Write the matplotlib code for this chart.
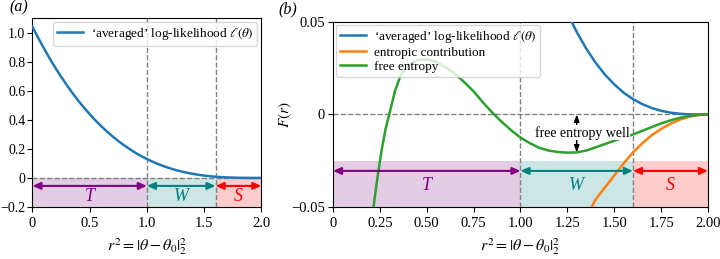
import matplotlib
matplotlib.use("Agg")
import matplotlib.pyplot as plt

plt.rcParams['font.family'] = ['Liberation Serif', 'DejaVu Serif']
plt.rcParams['mathtext.fontset'] = 'stix'
plt.rcParams['font.size'] = 10.5
plt.rcParams['ytick.major.pad'] = 2.5

# data
r2_ll = [0.00, 0.05, 0.10, 0.15, 0.20, 0.25, 0.30, 0.35, 0.40, 0.45,
         0.50, 0.55, 0.60, 0.65, 0.70, 0.75, 0.80, 0.85, 0.90, 0.95,
         1.00, 1.05, 1.10, 1.15, 1.20, 1.25, 1.30, 1.35, 1.40, 1.45,
         1.50, 1.55, 1.60, 1.65, 1.70, 1.75, 1.80, 1.85, 1.90, 1.95, 2.00]
loglik = [1.040, 0.964, 0.892, 0.823, 0.758, 0.697, 0.639, 0.584, 0.532, 0.484,
          0.439, 0.396, 0.357, 0.320, 0.286, 0.254, 0.225, 0.198, 0.173, 0.1505,
          0.130, 0.1115, 0.0948, 0.0798, 0.0666, 0.0548, 0.0446, 0.0357, 0.0281, 0.0216,
          0.0163, 0.0118, 0.0083, 0.0056, 0.0035, 0.0020, 0.0010, 0.0004, 0.0001, 0.0000, 0.0]

r2_ent = [1.37, 1.40, 1.45, 1.50, 1.55, 1.60, 1.65, 1.70, 1.75, 1.80, 1.85, 1.90, 1.95, 2.00]
entropic = [-0.052, -0.046, -0.0395, -0.033, -0.0265, -0.0205, -0.0155, -0.0112,
            -0.0078, -0.005, -0.0028, -0.0012, -0.0003, 0.0]

r2_free = [0.212, 0.22, 0.24, 0.26, 0.28, 0.30, 0.33, 0.36, 0.40, 0.45,
           0.50, 0.55, 0.60, 0.65, 0.70, 0.75, 0.80, 0.85, 0.90, 0.95,
           1.00, 1.05, 1.10, 1.15, 1.20, 1.25, 1.30, 1.35, 1.40, 1.45,
           1.50, 1.55, 1.60, 1.65, 1.70, 1.75, 1.80, 1.85, 1.90, 1.95, 2.00]
free_entropy = [-0.054, -0.047, -0.032, -0.019, -0.008, 0.000, 0.0125, 0.021, 0.0265, 0.0295,
                0.0298, 0.0285, 0.0255, 0.022, 0.0175, 0.0125, 0.0065, 0.001, -0.004, -0.0085,
                -0.0125, -0.0155, -0.018, -0.0195, -0.0203, -0.0206, -0.0205, -0.0195, -0.0178, -0.016,
                -0.0142, -0.0125, -0.0108, -0.0088, -0.0068, -0.0048, -0.0032, -0.0018, -0.0008, -0.0002, 0.0]

# free entropy well, marked at its bottom
well_x = 1.3
well_depth = -0.0205

bounds = [0.0, 1.0, 1.6, 2.0]
region_names = ['T', 'W', 'S']
region_colors = ['purple', 'teal', 'red']

xlabel = r'$r^2 = |\theta - \theta_0|_2^2$'
ll_label = r"‘averaged’ log-likelihood $\ell(\theta)$"
arrow_style = '<|-|>,head_length=0.45,head_width=0.2'


def draw_regions(ax, band_bottom, band_top, arrow_y, text_y):
    for i in range(3):
        ax.fill_between([bounds[i], bounds[i + 1]], band_bottom, band_top,
                        color=region_colors[i], alpha=0.2, lw=0, zorder=0)
        ax.annotate('', xy=(bounds[i + 1], arrow_y), xytext=(bounds[i], arrow_y),
                    arrowprops=dict(arrowstyle=arrow_style, color=region_colors[i],
                                    lw=1.5, shrinkA=0, shrinkB=0))
        ax.text((bounds[i] + bounds[i + 1]) / 2, text_y, region_names[i],
                color=region_colors[i], ha='center', va='center',
                fontsize=13, style='italic')
    ax.axhline(0, color='gray', ls='--', lw=1, zorder=1)
    for b in bounds[1:3]:
        ax.axvline(b, color='gray', ls='--', lw=1, zorder=1)


fig = plt.figure(figsize=(7.2, 2.59), dpi=100)

# (a)
axa = fig.add_axes([0.045, 0.2008, 0.3180, 0.7297])
axa.set_xlim(0, 2)
axa.set_ylim(-0.2, 1.1)
axa.plot(r2_ll, loglik, color='tab:blue', lw=1.8, label=ll_label, zorder=3)
draw_regions(axa, -0.2, 0, -0.055, -0.128)
axa.set_xticks([0, 0.5, 1.0, 1.5, 2.0])
axa.set_xticklabels(['0', '0.5', '1.0', '1.5', '2.0'])
axa.set_yticks([-0.2, 0, 0.2, 0.4, 0.6, 0.8, 1.0])
axa.set_yticklabels(['\u22120.2', '0', '0.2', '0.4', '0.6', '0.8', '1.0'], fontsize=10)
axa.tick_params(axis='y', pad=1.5)
axa.set_xlabel(xlabel, labelpad=5, fontsize=11.5)
axa.legend(loc='upper right', fontsize=9.5, handlelength=2.0, borderaxespad=0.3,
           borderpad=0.3, handletextpad=0.6)
axa.text(-0.1, 1.055, '(a)', transform=axa.transAxes, fontsize=11.5, style='italic',
         va='center', ha='left')

# (b)
axb = fig.add_axes([0.4625, 0.2008, 0.5208, 0.7143])
axb.set_xlim(0, 2)
axb.set_ylim(-0.05, 0.05)
axb.plot(r2_ll, loglik, color='tab:blue', lw=1.8, label=ll_label, zorder=3)
axb.plot(r2_ent, entropic, color='tab:orange', lw=1.8, label='entropic contribution', zorder=3)
axb.plot(r2_free, free_entropy, color='tab:green', lw=1.8, label='free entropy', zorder=3)
draw_regions(axb, -0.05, -0.025, -0.0305, -0.0385)

axb.annotate('', xy=(well_x, 0), xytext=(well_x, well_depth),
             arrowprops=dict(arrowstyle='<|-|>,head_length=0.4,head_width=0.15',
                             color='black', lw=1, shrinkA=0, shrinkB=0), zorder=4)
axb.text(well_x + 0.03, -0.0098, 'free entropy well', ha='center', va='center',
         fontsize=10, zorder=5,
         bbox=dict(boxstyle='square,pad=0.05', fc='white', ec='none'))

axb.set_xticks([0, 0.25, 0.5, 0.75, 1.0, 1.25, 1.5, 1.75, 2.0])
axb.set_xticklabels(['0', '0.25', '0.50', '0.75', '1.00', '1.25', '1.50', '1.75', '2.00'])
axb.set_yticks([-0.05, 0, 0.05])
axb.set_yticklabels(['\u22120.05', '0', '0.05'])
axb.set_xlabel(xlabel, labelpad=5, fontsize=11.5)
axb.set_ylabel(r'$F(r)$', fontsize=11)
axb.yaxis.set_label_coords(-0.105, 0.5)
axb.legend(loc='upper left', fontsize=9.5, handlelength=2.0, borderaxespad=0.2,
           labelspacing=0.15, borderpad=0.3, handletextpad=0.6)
axb.text(-0.145, 1.07, '(b)', transform=axb.transAxes, fontsize=11.5, style='italic',
         va='center', ha='left')

fig.savefig('out.png', dpi=100)
